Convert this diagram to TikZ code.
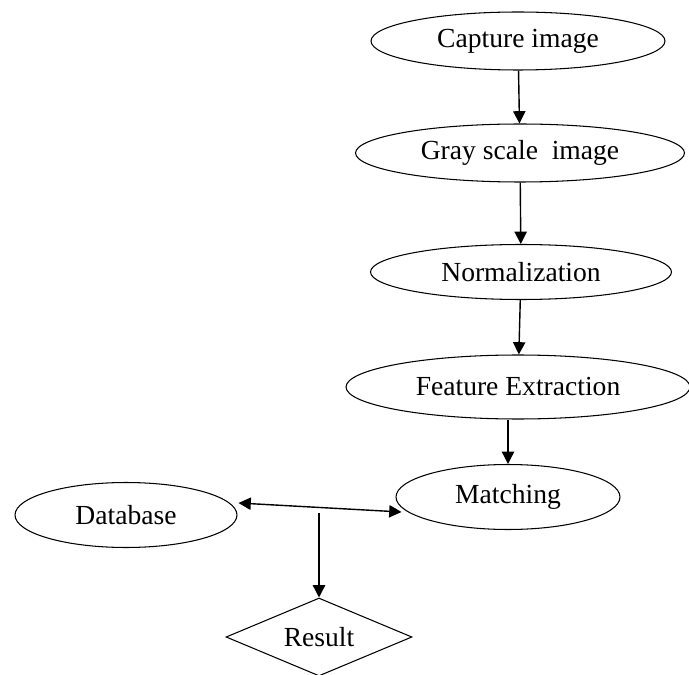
\documentclass[tikz,border=0pt]{standalone}
\usepackage{fontspec}
\setmainfont{Liberation Serif}
\usetikzlibrary{arrows.meta, shapes.geometric}

\begin{document}
\begin{tikzpicture}[x=0.02cm, y=-0.02cm,
        stage/.style={ellipse, draw, line width=0.6pt, inner sep=0pt, font=\fontsize{15.7}{19}\selectfont},
        flow/.style={-{Triangle[length=7pt, width=7pt]}, line width=0.8pt}]
        \useasboundingbox (0,0) rectangle (689,675);
        \node[stage, minimum width=5.88cm, minimum height=1.16cm] at (518, 41)   (cap) {Capture image};
        \node[stage, minimum width=6.58cm, minimum height=1.16cm] at (520, 153)  (gray) {Gray scale\ \ image};
        \node[stage, minimum width=6.02cm, minimum height=1.1cm]  at (521, 272)  (norm) {Normalization};
        \node[stage, minimum width=6.88cm, minimum height=1.28cm] at (518, 387)  (feat) {Feature Extraction};
        \node[stage, minimum width=4.48cm, minimum height=1.3cm]  at (508, 497)  (match) {Matching};
        \node[stage, minimum width=4.44cm, minimum height=1.3cm]  at (126, 515)  (db) {Database};
        \node[diamond, draw, line width=0.6pt, inner sep=0pt, aspect=2.4, minimum width=3.72cm, minimum height=1.56cm,
              font=\fontsize{15.7}{19}\selectfont] at (319, 637) (res) {Result};
        \coordinate (split) at (319, 513);
        \draw [flow] (cap) -- (gray);
        \draw [flow] (gray) -- (norm);
        \draw [flow] (norm) -- (feat);
        \draw [flow] (match.north |- feat.south) -- (match.north);
        \draw [{Triangle[length=7pt, width=7pt]}-{Triangle[length=7pt, width=7pt]}, line width=0.8pt]
              ([shift={(1,-12)}]db.east) -- ([shift={(6,15)}]match.west);
        \draw [flow] (split) -- (res.north);
    \end{tikzpicture}
\end{document}
